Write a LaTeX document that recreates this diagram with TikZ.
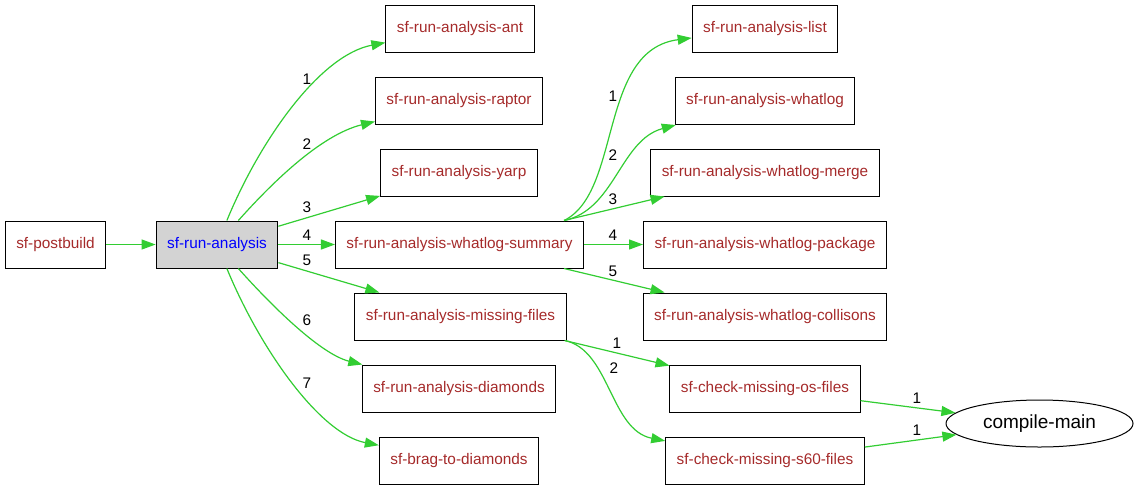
\documentclass[tikz,border=0pt]{standalone}
\usepackage{fontspec}
\setmainfont{Liberation Sans}
\usetikzlibrary{arrows.meta,shapes.geometric}
\definecolor{edgegreen}{RGB}{50,205,50}
\definecolor{nodebrown}{RGB}{165,42,42}
\definecolor{boxgray}{RGB}{211,211,211}

\begin{document}
\begin{tikzpicture}[x=1pt, y=-1pt,
    box/.style={draw, line width=1pt, text=nodebrown, inner xsep=11pt, minimum height=47pt,
        font=\fontsize{15.35}{18}\selectfont},
    edge/.style={draw=edgegreen, line width=1.2pt, -{Triangle[length=14pt,width=10pt]}},
    lbl/.style={text=black, inner sep=0pt, font=\fontsize{15.35}{18}\selectfont}]
    \useasboundingbox (0,0) rectangle (1139,491);

    \node[box] (pb) at (55.5,244.5) {sf-postbuild};
    \node[box, fill=boxgray, text=blue] (ra) at (217,244.5) {sf-run-analysis};

    \node[box] (ant) at (460,28.5) {sf-run-analysis-ant};
    \node[box] (raptor) at (459,101) {sf-run-analysis-raptor};
    \node[box] (yarp) at (459,172.5) {sf-run-analysis-yarp};
    \node[box] (sum) at (459.5,244.5) {sf-run-analysis-whatlog-summary};
    \node[box] (miss) at (460.5,316.5) {sf-run-analysis-missing-files};
    \node[box] (diam) at (459,388.5) {sf-run-analysis-diamonds};
    \node[box] (brag) at (459,460.5) {sf-brag-to-diamonds};

    \node[box] (list) at (765,28.5) {sf-run-analysis-list};
    \node[box] (wl) at (765,101) {sf-run-analysis-whatlog};
    \node[box] (merge) at (765,172.5) {sf-run-analysis-whatlog-merge};
    \node[box] (pkg) at (765,244.5) {sf-run-analysis-whatlog-package};
    \node[box] (coll) at (765,316.5) {sf-run-analysis-whatlog-collisons};
    \node[box] (os) at (765,388.5) {sf-check-missing-os-files};
    \node[box] (s60) at (765,460.5) {sf-check-missing-s60-files};

    \node[draw, ellipse, line width=1pt, minimum width=187pt, minimum height=47pt,
        font=\fontsize{19}{22}\selectfont] (cm) at (1039.5,423.5) {compile-main};

    % sf-postbuild and sf-run-analysis
    \draw[edge] (pb) -- (ra);
    \draw[edge] (ra) .. controls (260,140) and (320,55) .. (ant) node[lbl, at={(307,79)}] {1};
    \draw[edge] (ra) .. controls (270,185) and (320,135) .. (raptor) node[lbl, at={(307,144)}] {2};
    \draw[edge] (ra) -- (yarp) node[lbl, at={(307,207)}] {3};
    \draw[edge] (ra) -- (sum) node[lbl, at={(307,235)}] {4};
    \draw[edge] (ra) -- (miss) node[lbl, at={(307,260)}] {5};
    \draw[edge] (ra) .. controls (270,304) and (320,354) .. (diam) node[lbl, at={(307,320)}] {6};
    \draw[edge] (ra) .. controls (260,349) and (320,434) .. (brag) node[lbl, at={(307,383)}] {7};

    % whatlog summary
    \draw[edge] ([xshift=-20pt]sum.north east) .. controls (622,192) and (598,50) .. (list)
        node[lbl, at={(613,96)}] {1};
    \draw[edge] ([xshift=-20pt]sum.north east) .. controls (615,210) and (620,140) .. (wl)
        node[lbl, at={(613,155)}] {2};
    \draw[edge] ([xshift=-20pt]sum.north east) -- (merge) node[lbl, at={(613,199)}] {3};
    \draw[edge] (sum) -- (pkg) node[lbl, at={(613,235)}] {4};
    \draw[edge] ([xshift=-20pt]sum.south east) -- (coll) node[lbl, at={(613,271)}] {5};

    % missing files
    \draw[edge] ([xshift=-2pt]miss.south east) -- (os) node[lbl, at={(617,343)}] {1};
    \draw[edge] ([xshift=-2pt]miss.south east) .. controls (610,350) and (610,430) .. (s60)
        node[lbl, at={(614,368)}] {2};

    % compile-main
    \draw[edge] (os) -- (cm) node[lbl, at={(917,398)}] {1};
    \draw[edge] (s60) -- (cm) node[lbl, at={(917,430)}] {1};
\end{tikzpicture}
\end{document}
